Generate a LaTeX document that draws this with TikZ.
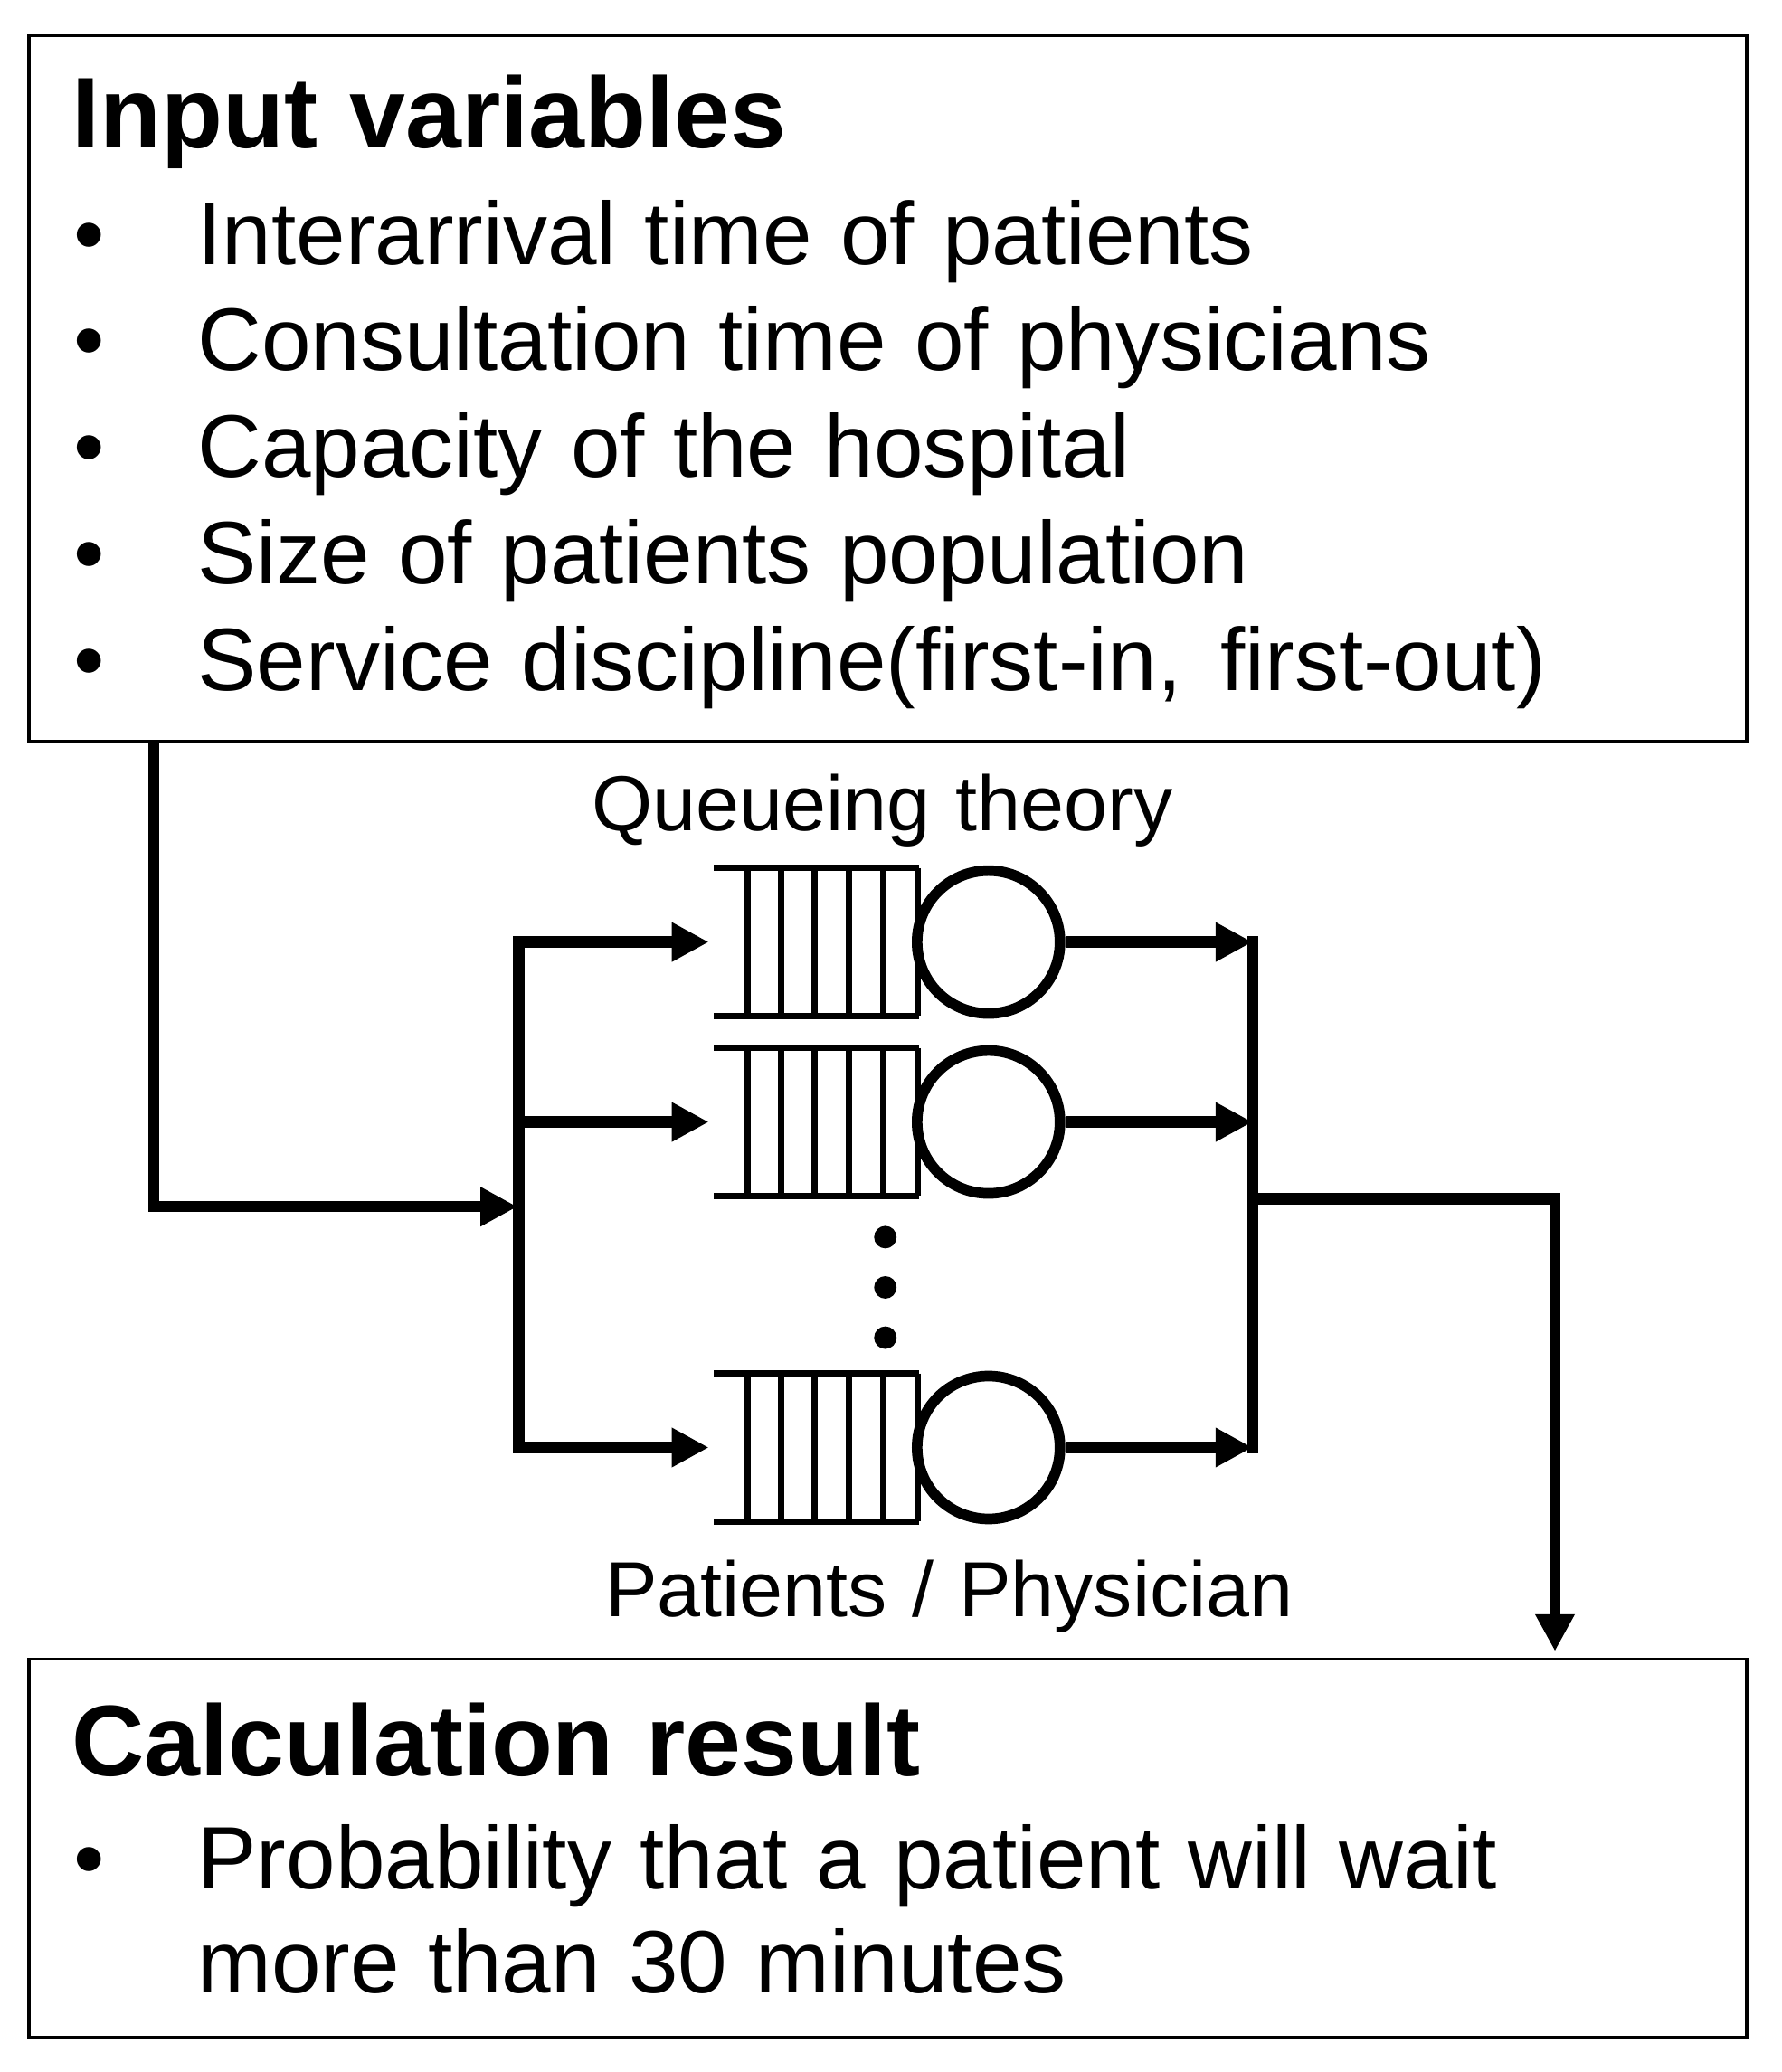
\documentclass[tikz,border=0pt]{standalone}
\usepackage{fontspec}
\setmainfont[WordSpace=1.15]{Liberation Sans}
\usetikzlibrary{arrows.meta,calc}
\begin{document}
\begin{tikzpicture}[x=0.5pt,y=-0.5pt,
  box/.style={draw, line width=1.2pt, rectangle, inner sep=0pt},
  conn/.style={line width=4.2pt, line join=miter},
  arr/.style={conn, -{Triangle[length=14pt,width=14pt]}},
  qline/.style={line width=2.4pt},
  qbox/.style={rectangle, inner sep=0pt, minimum width=77pt, minimum height=55.5pt},
  srv/.style={draw, circle, line width=4pt, minimum size=54pt, inner sep=0pt},
  body/.style={anchor=base west, inner sep=0pt, font=\fontsize{33.5}{40}\selectfont},
  head/.style={anchor=base west, inner sep=0pt, font=\fontsize{38}{45}\selectfont\bfseries},
  lab/.style={anchor=base west, inner sep=0pt, font=\fontsize{29.5}{35}\selectfont},
  dotnode/.style={fill, circle, minimum size=8.5pt, inner sep=0pt}
]
\useasboundingbox (0,0) rectangle (1346,1566);
\fill[white] (0,0) rectangle (1346,1566);

% boxes
\node[box, minimum width=649pt, minimum height=266.5pt] (inbox) at (671,293.5) {};
\node[box, minimum width=649pt, minimum height=143pt] (res) at (671,1397) {};

% top box text
\node[head] (h1) at (54,112) {Input variables};
\foreach \y/\t/\n in {200/{Interarrival time of patients}/1,
                      280/{Consultation time of physicians}/2,
                      360.5/{Capacity of the hospital}/3,
                      441/{Size of patients population}/4,
                      522/{Service discipline(first-in,\hspace{4pt} first-out)}/5}{
  \node[body] (bu\n) at (55,\y) {•};
  \node[body] (it\n) at (149,\y) {\t};
}

% labels
\node[lab] (qt) at (447,628) {Queueing theory};
\node[lab] (pp) at (457,1222) {Patients / Physician};

% queues and servers
\foreach \r/\n in {712/1,848/2,1094/3}{
  \node[qbox] (q\n) at (617,\r) {};
  \draw[qline] (q\n.north west) -- (q\n.north east);
  \draw[qline] (q\n.south west) -- (q\n.south east);
  \foreach \x in {25,50.5,76,102,128,154}
    \draw[qline] ($(q\n.north west)+(\x,0)$) -- ($(q\n.south west)+(\x,0)$);
  \node[srv] (c\n) at (747,\r) {};
}

% dots
\node[dotnode] (d1) at (669,935) {};
\node[dotnode] (d2) at (669,973) {};
\node[dotnode] (d3) at (669,1011) {};

% junction coordinates
\coordinate (s) at (116,560);
\coordinate (jl) at (391,912);
\coordinate (lt) at (392,712);
\coordinate (lm) at (392,848);
\coordinate (lb) at (392,1094);
\coordinate (rt) at (946.5,712);
\coordinate (rm) at (946.5,848);
\coordinate (rb) at (946.5,1094);
\coordinate (jr) at (946.5,906);
\coordinate (rin) at (1175,1248);

% connectors
\draw[arr] (s) |- (jl);
\draw[conn, line cap=rect] (lt) -- (lb);
\draw[arr, shorten >=2pt] (lt) -- (q1.west);
\draw[arr, shorten >=2pt] (lm) -- (q2.west);
\draw[arr, shorten >=2pt] (lb) -- (q3.west);
\draw[arr] (c1.east) -- (rt);
\draw[arr] (c2.east) -- (rm);
\draw[arr] (c3.east) -- (rb);
\draw[conn, line cap=rect] (rt) -- (rb);
\draw[arr] (jr) -| (rin);

% bottom box text
\node[head] (h2) at (54,1342) {Calculation result};
\node[body] (bu6) at (55,1427.5) {•};
\node[body] (rt6) at (149,1427.5) {Probability that a patient will wait};
\node[body] (rt7) at (149,1506) {more than 30 minutes};
\end{tikzpicture}
\end{document}
